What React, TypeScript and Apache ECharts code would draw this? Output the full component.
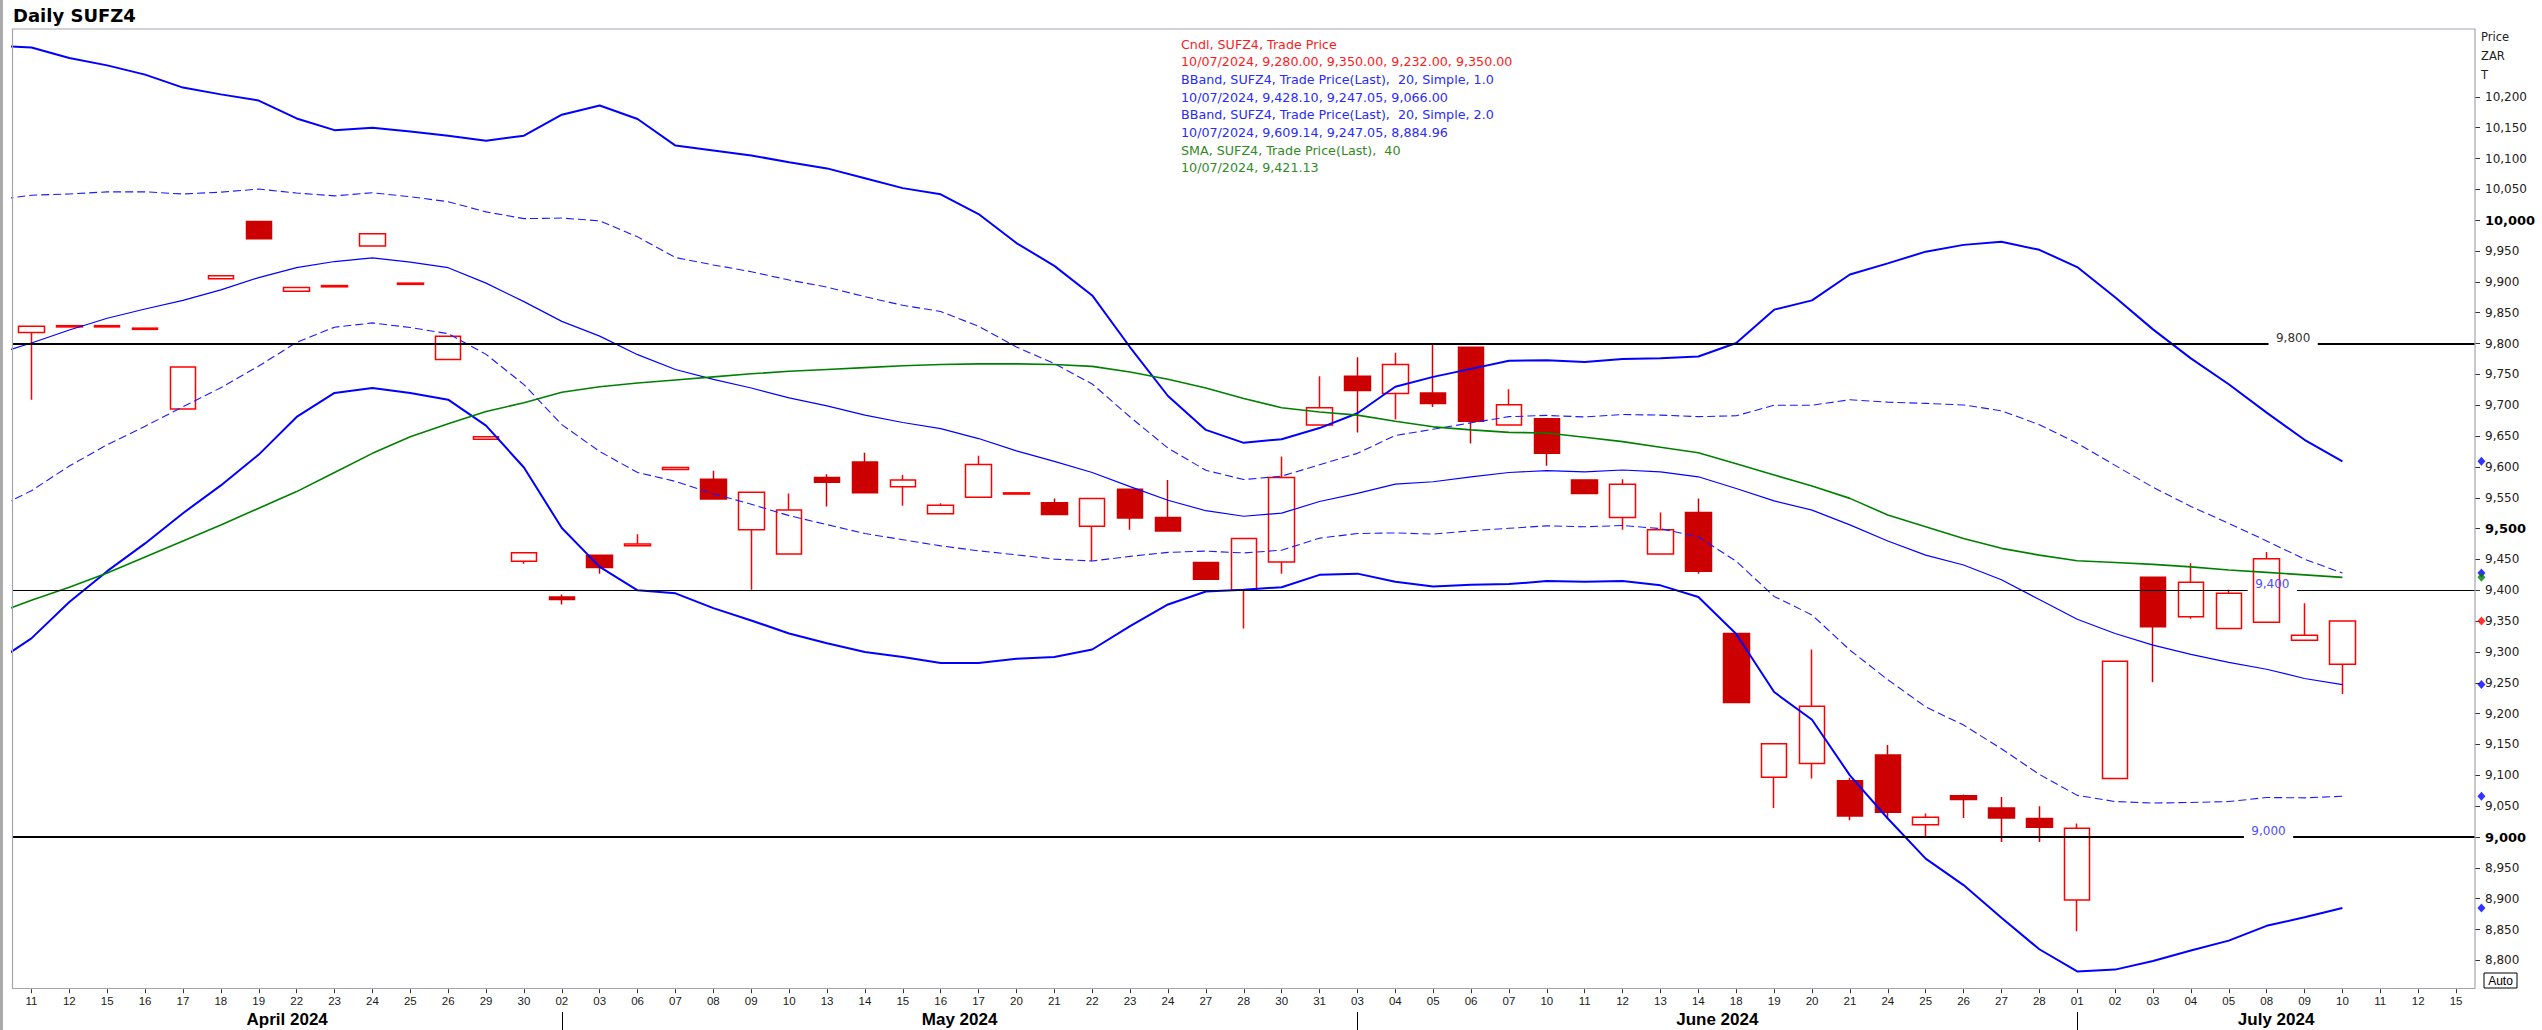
import React, { useEffect, useRef } from "react";
import * as echarts from "echarts";

// ---------- categories (trading days) ----------
const dayLabels = [
  "11", "12", "15", "16", "17", "18", "19", "22", "23", "24", "25", "26", "29", "30",
  "02", "03", "06", "07", "08", "09", "10", "13", "14", "15", "16", "17", "20", "21", "22", "23", "24", "27", "28", "30", "31",
  "03", "04", "05", "06", "07", "10", "11", "12", "13", "14", "18", "19", "20", "21", "24", "25", "26", "27", "28",
  "01", "02", "03", "04", "05", "08", "09", "10", "11", "12", "15",
];
const months = [
  { label: "April 2024", start: 0 },
  { label: "May 2024", start: 14 },
  { label: "June 2024", start: 35 },
  { label: "July 2024", start: 54 },
];

// ---------- candles ----------
const opens = [
  9818, 9827, 9827, 9823, 9694, 9905, 9998, 9885, 9892, 9958,
  9896, 9774, 9645, 9447, 9389, 9457, 9472, 9596, 9580, 9498,
  9459, 9583, 9608, 9568, 9524, 9551, 9556, 9542, 9504, 9564,
  9518, 9445, 9400, 9446, 9668, 9747, 9719, 9720, 9794, 9668,
  9678, 9579, 9518, 9459, 9526, 9330, 9097, 9119, 9091, 9133,
  9020, 9067, 9047, 9030, 8898, 9095, 9421, 9357, 9338, 9348,
  9319, 9280,
];
const closes = [
  9828, 9829, 9829, 9825, 9762, 9910, 9970, 9891, 9894, 9978,
  9898, 9812, 9649, 9461, 9385, 9437, 9475, 9599, 9548, 9559,
  9530, 9575, 9558, 9579, 9538, 9604, 9558, 9523, 9549, 9517,
  9496, 9418, 9484, 9583, 9696, 9724, 9766, 9703, 9674, 9701,
  9622, 9557, 9572, 9498, 9431, 9218, 9151, 9212, 9034, 9040,
  9032, 9061, 9031, 9016, 9014, 9285, 9341, 9413, 9395, 9451,
  9327, 9350,
];
const lows = [
  9709, 9827, 9827, 9823, 9694, 9905, 9970, 9885, 9892, 9958,
  9896, 9774, 9645, 9443, 9377, 9427, 9472, 9596, 9548, 9401,
  9459, 9536, 9558, 9537, 9524, 9551, 9556, 9523, 9447, 9498,
  9496, 9418, 9338, 9427, 9668, 9656, 9677, 9697, 9638, 9668,
  9602, 9557, 9498, 9459, 9427, 9217, 9047, 9095, 9027, 9030,
  9000, 9031, 8992, 8992, 8847, 9095, 9251, 9354, 9338, 9348,
  9319, 9232,
];
const highs = [
  9828, 9829, 9829, 9825, 9762, 9910, 9998, 9891, 9894, 9978,
  9898, 9812, 9649, 9461, 9393, 9457, 9491, 9599, 9594, 9559,
  9557, 9588, 9623, 9587, 9541, 9618, 9558, 9549, 9549, 9564,
  9579, 9445, 9484, 9617, 9747, 9778, 9785, 9801, 9794, 9726,
  9678, 9579, 9580, 9526, 9549, 9330, 9151, 9304, 9096, 9149,
  9038, 9069, 9065, 9050, 9022, 9285, 9421, 9444, 9401, 9462,
  9379, 9350,
];

// ---------- indicator lines (first value is the day before the first category) ----------
const bandStart = -1;
const bb2Upper = [
  10283, 10280, 10263, 10251, 10236, 10215, 10204, 10194, 10165, 10146,
  10150, 10144, 10137, 10129, 10137, 10171, 10186, 10164, 10121, 10113,
  10105, 10094, 10084, 10068, 10052, 10042, 10010, 9963, 9926, 9878,
  9794, 9715, 9660, 9639, 9645, 9663, 9687, 9730, 9746, 9759,
  9772, 9773, 9770, 9775, 9776, 9779, 9801, 9855, 9870, 9912,
  9930, 9949, 9960, 9965, 9952, 9924, 9875, 9823, 9776, 9734,
  9688, 9644, 9609,
];
const bb1Upper = [
  10032.5, 10040.5, 10042.5, 10046, 10046, 10042.5, 10045.5, 10050.5, 10044, 10039.5,
  10044.5, 10038, 10030, 10013.5, 10002.5, 10003.5, 9999, 9973, 9939.5, 9927.5,
  9916.5, 9903, 9891.5, 9876, 9862, 9852, 9828, 9794.5, 9767.5, 9734.5,
  9681, 9630.5, 9594.5, 9579.5, 9585, 9603.5, 9622, 9651, 9661, 9671.5,
  9681.5, 9683.5, 9681, 9685, 9684, 9681.5, 9683, 9700, 9700, 9709,
  9705, 9703, 9700.5, 9691, 9668.5, 9638.5, 9602.5, 9567, 9536, 9508.5,
  9480, 9450.5, 9428,
];
const bbMid = [
  9782, 9801, 9822, 9841, 9856, 9870, 9887, 9907, 9923, 9933,
  9939, 9932, 9923, 9898, 9868, 9836, 9812, 9782, 9758, 9742,
  9728, 9712, 9699, 9684, 9672, 9662, 9646, 9626, 9609, 9591,
  9568, 9546, 9529, 9520, 9525, 9544, 9557, 9572, 9576, 9584,
  9591, 9594, 9592, 9595, 9592, 9584, 9565, 9545, 9530, 9506,
  9480, 9457, 9441, 9417, 9385, 9353, 9330, 9311, 9296, 9283,
  9272, 9257, 9247,
];
const bb1Lower = [
  9531.5, 9561.5, 9601.5, 9636, 9666, 9697.5, 9728.5, 9763.5, 9802, 9826.5,
  9833.5, 9826, 9816, 9782.5, 9733.5, 9668.5, 9625, 9591, 9576.5, 9556.5,
  9539.5, 9521, 9506.5, 9492, 9482, 9472, 9464, 9457.5, 9450.5, 9447.5,
  9455, 9461.5, 9463.5, 9460.5, 9465, 9484.5, 9492, 9493, 9491, 9496.5,
  9500.5, 9504.5, 9503, 9505, 9500, 9486.5, 9447, 9390, 9360, 9303,
  9255, 9211, 9181.5, 9143, 9101.5, 9067.5, 9057.5, 9055, 9056, 9057.5,
  9064, 9063.5, 9066,
];
const bb2Lower = [
  9281, 9322, 9381, 9431, 9476, 9525, 9570, 9620, 9681, 9720,
  9728, 9720, 9709, 9667, 9599, 9501, 9438, 9400, 9395, 9371,
  9351, 9330, 9314, 9300, 9292, 9282, 9282, 9289, 9292, 9304,
  9342, 9377, 9398, 9401, 9405, 9425, 9427, 9414, 9406, 9409,
  9410, 9415, 9414, 9415, 9408, 9389, 9329, 9235, 9190, 9100,
  9030, 8965, 8922, 8869, 8818, 8782, 8785, 8799, 8816, 8832,
  8856, 8870, 8885,
];
const sma40 = [
  9361, 9384, 9405, 9428, 9454, 9480, 9506, 9533, 9560, 9591,
  9622, 9649, 9670, 9690, 9704, 9721, 9730, 9736, 9741, 9746,
  9751, 9755, 9758, 9761, 9764, 9766, 9767, 9767, 9766, 9763,
  9754, 9742, 9728, 9711, 9696, 9689, 9684, 9674, 9665, 9660,
  9656, 9655, 9648, 9641, 9632, 9623, 9605, 9587, 9569, 9549,
  9522, 9503, 9484, 9468, 9457, 9448, 9445, 9442, 9438, 9433,
  9429, 9425, 9421,
];

// last values shown as diamonds on the price scale
const lastMarkers = [
  { value: 9609.14, color: "#0000ff" },
  { value: 9428.1, color: "#0000ff" },
  { value: 9421.13, color: "#008000" },
  { value: 9350.0, color: "#ff0000" },
  { value: 9247.05, color: "#0000ff" },
  { value: 9066.0, color: "#0000ff" },
  { value: 8884.96, color: "#0000ff" },
];

// horizontal level lines
const levels = [
  { value: 9800, label: "9,800", width: 2, labelColor: "#333333", labelAt: 59.7 },
  { value: 9400, label: "9,400", width: 1, labelColor: "#4d4dff", labelAt: 59.15 },
  { value: 9000, label: "9,000", width: 2, labelColor: "#4d4dff", labelAt: 59.05 },
];

const yTicks = [
  8800, 8850, 8900, 8950, 9000, 9050, 9100, 9150, 9200, 9250, 9300, 9350, 9400, 9450,
  9500, 9550, 9600, 9650, 9700, 9750, 9800, 9850, 9900, 9950, 10000, 10050, 10100,
  10150, 10200,
];
const boldTicks = [9000, 9500, 10000];

const legendLines = [
  { text: "Cndl, SUFZ4, Trade Price", color: "#ff1a1a" },
  { text: "10/07/2024, 9,280.00, 9,350.00, 9,232.00, 9,350.00", color: "#ff1a1a" },
  { text: "BBand, SUFZ4, Trade Price(Last),  20, Simple, 1.0", color: "#2a2aff" },
  { text: "10/07/2024, 9,428.10, 9,247.05, 9,066.00", color: "#2a2aff" },
  { text: "BBand, SUFZ4, Trade Price(Last),  20, Simple, 2.0", color: "#2a2aff" },
  { text: "10/07/2024, 9,609.14, 9,247.05, 8,884.96", color: "#2a2aff" },
  { text: "SMA, SUFZ4, Trade Price(Last),  40", color: "#2f8a1f" },
  { text: "10/07/2024, 9,421.13", color: "#2f8a1f" },
];

const axisNameLines = ["Price", "ZAR", "T"];

const fmt = (v: number) => {
  const th = Math.floor(v / 1000);
  const r = Math.round(v % 1000);
  return th > 0 ? th + "," + String(r).padStart(3, "0") : String(r);
};

const toXY = (arr: number[]) => arr.map((v, k) => [k + bandStart, v]);

export default function App() {
  const ref = useRef<HTMLDivElement>(null);

  useEffect(() => {
    const el = ref.current;
    if (!el) return;
    const chart = echarts.init(el, null, { renderer: "svg" });
    const lastIdx = dayLabels.length - 1;

    const lineSeries = (name: string, data: number[], color: string, width: number, dashed: boolean) => ({
      name,
      type: "line",
      xAxisIndex: 1,
      yAxisIndex: 0,
      data: toXY(data),
      symbol: "none",
      showSymbol: false,
      z: 3,
      silent: true,
      lineStyle: { color, width, type: dashed ? [8, 4] : "solid" },
    });

    const levelMarkData: any[] = [];
    levels.forEach((lv) => {
      const a = lv.labelAt - 0.65;
      const b = lv.labelAt + 0.65;
      levelMarkData.push([
        { coord: [-0.5, lv.value], lineStyle: { color: "#000", width: lv.width, type: "solid" } },
        { coord: [a, lv.value] },
      ]);
      levelMarkData.push([
        {
          coord: [a, lv.value],
          lineStyle: { color: "rgba(0,0,0,0)", width: 1, type: "solid" },
          label: {
            show: true,
            position: "middle",
            formatter: lv.label,
            color: lv.labelColor,
            fontFamily: "DejaVu Sans",
            fontSize: 12,
            distance: 0,
          },
        },
        { coord: [b, lv.value] },
      ]);
      levelMarkData.push([
        { coord: [b, lv.value], lineStyle: { color: "#000", width: lv.width, type: "solid" } },
        { coord: [lastIdx + 0.5, lv.value] },
      ]);
    });

    const option: any = {
      animation: false,
      backgroundColor: "#ffffff",
      grid: { left: 12.5, right: 67, top: 29, bottom: 38.8, show: false },
      xAxis: [
        {
          type: "category",
          data: dayLabels,
          boundaryGap: true,
          position: "bottom",
          offset: -2,
          axisLine: { show: false, onZero: false },
          axisTick: { show: true, alignWithLabel: true, interval: 0, length: 4, lineStyle: { color: "#333", width: 1 } },
          axisLabel: {
            interval: 0,
            margin: 6,
            fontFamily: "Liberation Sans",
            fontSize: 11.5,
            color: "#1a1a1a",
          },
          splitLine: { show: false },
        },
        {
          type: "value",
          min: -0.5,
          max: lastIdx + 0.5,
          show: false,
          axisLine: { show: false, onZero: false },
        },
      ],
      yAxis: [
        {
          type: "value",
          position: "right",
          min: 8750,
          max: 10310,
          interval: 50,
          axisLine: { show: false, onZero: false },
          splitLine: { show: false },
          axisTick: { show: true, length: 5, lineStyle: { color: "#333", width: 1 }, customValues: yTicks },
          axisLabel: {
            customValues: yTicks,
            margin: 10,
            fontFamily: "DejaVu Sans",
            fontSize: 12,
            color: "#222",
            showMinLabel: true,
            showMaxLabel: true,
            formatter: (v: number) => {
              if (v < yTicks[0] || v > yTicks[yTicks.length - 1]) return "";
              const s = fmt(v);
              return boldTicks.includes(v) ? `{b|${s}}` : s;
            },
            rich: {
              b: { fontFamily: "DejaVu Sans", fontWeight: "bold", fontSize: 13, color: "#000" },
            },
          },
        },
      ],
      series: [
        {
          name: "levels",
          type: "line",
          xAxisIndex: 1,
          yAxisIndex: 0,
          data: [[-10, 9000]],
          symbol: "none",
          lineStyle: { opacity: 0 },
          z: 1,
          silent: true,
          markLine: {
            silent: true,
            symbol: ["none", "none"],
            animation: false,
            label: { show: false },
            data: levelMarkData,
          },
        },
        {
          name: "Cndl",
          type: "candlestick",
          xAxisIndex: 0,
          yAxisIndex: 0,
          z: 2,
          barWidth: 26,
          data: opens.map((o, i) => [o, closes[i], lows[i], highs[i]]),
          itemStyle: {
            color: "rgba(255,255,255,0)",
            color0: "#cc0000",
            borderColor: "#ff0000",
            borderColor0: "#d00000",
            borderWidth: 1.5,
          },
        },
        lineSeries("BB2 upper", bb2Upper, "#0000ff", 2, false),
        lineSeries("BB1 upper", bb1Upper, "#1a1aff", 1.1, true),
        lineSeries("BB mid", bbMid, "#0000ff", 1.2, false),
        lineSeries("BB1 lower", bb1Lower, "#1a1aff", 1.1, true),
        lineSeries("BB2 lower", bb2Lower, "#0000ff", 2, false),
        lineSeries("SMA40", sma40, "#008000", 1.6, false),
        {
          name: "last",
          type: "scatter",
          xAxisIndex: 1,
          yAxisIndex: 0,
          clip: false,
          z: 5,
          symbol: "diamond",
          symbolSize: [8, 9],
          data: lastMarkers.map((m) => ({ value: [lastIdx + 0.67, m.value], itemStyle: { color: m.color } })),
        },
      ],
    };
    chart.setOption(option);

    const xPx = (v: number) => chart.convertToPixel({ xAxisIndex: 1 } as any, v) as number;
    const graphics: any[] = [];

    // window edge
    graphics.push({ type: "rect", shape: { x: 0, y: 0, width: 3, height: 1030 }, style: { fill: "#ababab" }, silent: true });
    // plot frame
    graphics.push({
      type: "rect",
      shape: { x: 12.5, y: 29, width: 2462.5, height: 959.5 },
      style: { fill: "none", stroke: "#a4a4b0", lineWidth: 1.2 },
      silent: true,
      z: 10,
    });
    // title
    graphics.push({
      type: "text",
      x: 13,
      y: 15,
      style: { text: "Daily SUFZ4", font: 'bold 18px "DejaVu Sans"', fill: "#000", verticalAlign: "middle", align: "left" },
    });
    // legend
    legendLines.forEach((l, k) => {
      graphics.push({
        type: "text",
        x: 1181,
        y: 44 + k * 17.7,
        style: { text: l.text, font: '12.7px "DejaVu Sans"', fill: l.color, verticalAlign: "middle", align: "left" },
      });
    });
    // price axis name
    axisNameLines.forEach((t, k) => {
      graphics.push({
        type: "text",
        x: 2481,
        y: 36.5 + k * 19,
        style: { text: t, font: '11.5px "DejaVu Sans"', fill: "#222", verticalAlign: "middle", align: "left" },
      });
    });
    // Auto box
    graphics.push({
      type: "rect",
      shape: { x: 2484, y: 973, width: 33, height: 15 },
      style: { fill: "#fff", stroke: "#000", lineWidth: 1 },
    });
    graphics.push({
      type: "text",
      x: 2500.5,
      y: 980.5,
      style: { text: "Auto", font: '12px "Liberation Sans"', fill: "#000", verticalAlign: "middle", align: "center" },
    });
    // month separators and labels
    months.forEach((m, k) => {
      const start = k === 0 ? -0.5 : m.start;
      const end = k < months.length - 1 ? months[k + 1].start : lastIdx + 0.5;
      const cx = xPx((start + end) / 2);
      graphics.push({
        type: "text",
        x: cx,
        y: 1019.5,
        style: { text: m.label, font: 'bold 17px "Liberation Sans"', fill: "#000", verticalAlign: "middle", align: "center" },
      });
      if (k > 0) {
        const sx = Math.round(xPx(m.start)) + 0.5;
        graphics.push({
          type: "line",
          shape: { x1: sx, y1: 1012, x2: sx, y2: 1030 },
          style: { stroke: "#000", lineWidth: 1 },
        });
      }
    });

    chart.setOption({ graphic: graphics });

    return () => chart.dispose();
  }, []);

  return (
    <div
      ref={ref}
      style={{ position: "absolute", left: 0, top: 0, width: 2542, height: 1030, background: "#fff" }}
    />
  );
}
